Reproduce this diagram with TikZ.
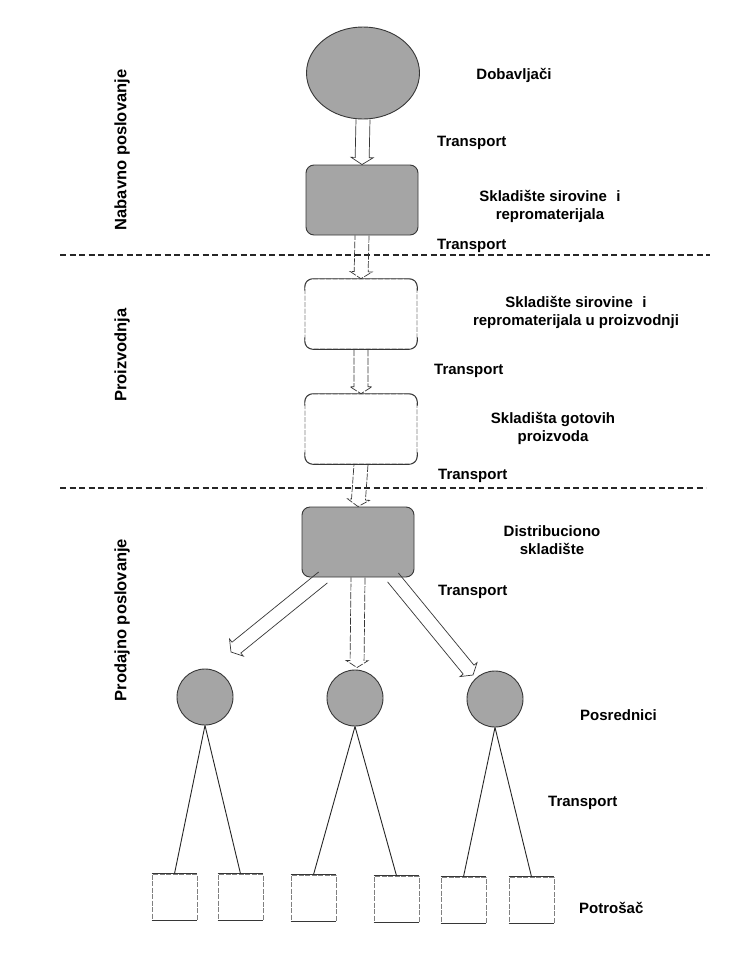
\documentclass[tikz,border=0pt]{standalone}
\usepackage{fontspec}
\setmainfont{Liberation Sans}
\usetikzlibrary{calc,shapes.geometric}

\definecolor{fillgray}{RGB}{165,165,165}
\definecolor{inkgray}{RGB}{55,55,55}

\tikzset{
  lbl/.style={font=\bfseries\fontsize{15}{18}\selectfont, align=center, inner sep=0pt},
  sidelbl/.style={font=\bfseries\fontsize{16.5}{19}\selectfont, rotate=90, inner sep=0pt},
  shaded/.style={draw=inkgray, line width=0.9pt, fill=fillgray},
  store/.style={rectangle, rounded corners=8pt, minimum width=112pt, minimum height=70pt, inner sep=0pt},
  hub/.style={circle, minimum size=56pt, inner sep=0pt, shaded},
  buyer/.style={rectangle, minimum width=45pt, minimum height=46pt, inner sep=0pt},
  faint/.style={draw=gray, line width=0.6pt, dash pattern=on 5pt off 1.5pt},
  edge/.style={draw=inkgray, line width=0.9pt},
  divider/.style={draw=black!85, line width=1.1pt, dash pattern=on 6pt off 3.5pt},
  tree/.style={draw=black!85, line width=0.9pt},
  arrowline/.style={draw=inkgray, line width=0.7pt, line join=miter},
}

% hollow block arrow from #2 to #3
\newcommand\hollowarrow[3][]{%
  \coordinate (ha) at ($(#3)!7pt!(#2)$);
  \draw[arrowline,#1]
    ($(#2)!7pt!90:(#3)$) -- ($(ha)!7pt!-90:(#2)$) -- ($(ha)!11pt!-90:(#2)$)
    -- (#3) -- ($(ha)!11pt!90:(#2)$) -- ($(ha)!7pt!90:(#2)$) -- ($(#2)!7pt!-90:(#3)$);
}

% solid top and bottom edges over a faint store outline
\newcommand\storeedges[1]{%
  \draw[edge, rounded corners=8pt] ($(#1.north west)+(0,12)$) |- (#1.north east) -- ($(#1.north east)+(0,12)$);
  \draw[edge, rounded corners=8pt] ($(#1.south west)+(0,-12)$) |- (#1.south east) -- ($(#1.south east)+(0,-12)$);
}
\newcommand\buyeredges[1]{%
  \draw[edge] (#1.north west) -- (#1.north east);
  \draw[edge] (#1.south west) -- (#1.south east);
}

\begin{document}
\begin{tikzpicture}[x=1pt,y=-1pt]
  \useasboundingbox[fill=white] (0,0) rectangle (733,964);

  % supply chain stations
  \node[ellipse, shaded, minimum width=113pt, minimum height=92pt, inner sep=0pt] (sup) at (363,73) {};
  \node[store, shaded] (raw) at (362,200) {};
  \node[store, faint] (prod) at (361,314) {};
  \node[store, faint] (fin) at (361,429) {};
  \node[store, shaded] (dist) at (358,542) {};
  \storeedges{prod}
  \storeedges{fin}

  % intermediaries
  \node[hub] (m1) at (205,697) {};
  \node[hub] (m2) at (355,698) {};
  \node[hub] (m3) at (495,699) {};

  % consumers
  \node[buyer, faint] (k1) at (174.5,897) {};
  \node[buyer, faint] (k2) at (240.5,897) {};
  \node[buyer, faint] (k3) at (313.5,898) {};
  \node[buyer, faint] (k4) at (396.5,899) {};
  \node[buyer, faint] (k5) at (463.5,900) {};
  \node[buyer, faint] (k6) at (531.5,900) {};
  \foreach \k in {k1,k2,k3,k4,k5,k6} {\buyeredges{\k}}

  % phase dividers
  \coordinate (d1a) at (60,255);  \coordinate (d1b) at (710,255);
  \coordinate (d2a) at (60,488);  \coordinate (d2b) at (706,488);
  \draw[divider] (d1a) -- (d1b);
  \draw[divider] (d2a) -- (d2b);

  % transport arrows along the chain
  \hollowarrow{sup.south}{raw.north}
  \hollowarrow[dash pattern=on 7pt off 1.5pt]{raw.south}{prod.north}
  \hollowarrow[dash pattern=on 7pt off 1.5pt]{prod.south}{fin.north}
  \hollowarrow[dash pattern=on 7pt off 1.5pt]{fin.south}{dist.north}

  % distribution to intermediaries
  \coordinate (sL) at ($(dist.south)+(-35,0)$);
  \coordinate (sR) at ($(dist.south)+(35,0)$);
  \coordinate (tL) at ($(m1.center)+(26,-45)$);
  \coordinate (tM) at ($(m2.north)+(2,-2)$);
  \coordinate (tR) at ($(m3.center)+(-22,-24)$);
  \hollowarrow{sL}{tL}
  \hollowarrow[dash pattern=on 7pt off 1.5pt]{dist.south}{tM}
  \hollowarrow{sR}{tR}

  % intermediaries to consumers
  \draw[tree] (m1.south) -- (k1.north);
  \draw[tree] (m1.south) -- (k2.north);
  \draw[tree] (m2.south) -- (k3.north);
  \draw[tree] (m2.south) -- (k4.north);
  \draw[tree] (m3.south) -- (k5.north);
  \draw[tree] (m3.south) -- (k6.north);

  % labels
  \node[lbl] (lsup) at (514,75) {Dobavljači};
  \node[lbl, anchor=west] (t1) at (437,143) {Transport};
  \node[lbl] (lraw) at (550,206) {Skladište sirovine\hspace{0.35em} i\\repromaterijala};
  \node[lbl, anchor=west] (t2) at (437,246) {Transport};
  \node[lbl] (lprod) at (576,312) {Skladište sirovine\hspace{0.35em} i\\repromaterijala u proizvodnji};
  \node[lbl, anchor=west] (t3) at (434,371) {Transport};
  \node[lbl] (lfin) at (553,428) {Skladišta gotovih\\proizvoda};
  \node[lbl, anchor=west] (t4) at (438,476) {Transport};
  \node[lbl] (ldist) at (552,540) {Distribuciono\\skladište};
  \node[lbl, anchor=west] (t5) at (438,592) {Transport};
  \node[lbl, anchor=west] (lmid) at (580,715) {Posrednici};
  \node[lbl, anchor=west] (t6) at (548,803) {Transport};
  \node[lbl, anchor=west] (lcon) at (579,908) {Potrošač};

  % phase names
  \node[sidelbl] (ph1) at (122,150) {Nabavno poslovanje};
  \node[sidelbl] (ph2) at (122,355) {Proizvodnja};
  \node[sidelbl] (ph3) at (122,620) {Prodajno poslovanje};
\end{tikzpicture}
\end{document}
